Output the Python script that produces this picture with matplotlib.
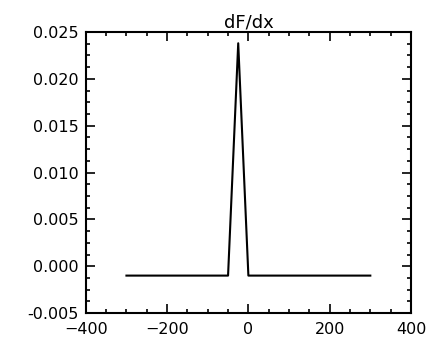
import matplotlib.pyplot as plt
from matplotlib.ticker import MultipleLocator

# data
x_pts = [-300, -50, -25, 0, 300]
y_pts = [-0.001, -0.001, 0.0238, -0.001, -0.001]

plt.rcParams['font.family'] = ['DejaVu Sans']

fig = plt.figure(figsize=(4.4, 3.37), dpi=100)
ax = fig.add_axes([0.195, 0.071, 0.739, 0.834])

ax.plot(x_pts, y_pts, color='black', linewidth=1.5)

ax.set_xlim(-400, 400)
ax.set_ylim(-0.005, 0.025)
ax.xaxis.set_major_locator(MultipleLocator(200))
ax.xaxis.set_minor_locator(MultipleLocator(50))
ax.yaxis.set_major_locator(MultipleLocator(0.005))
ax.yaxis.set_minor_locator(MultipleLocator(0.00125))
ax.yaxis.set_major_formatter(plt.FormatStrFormatter('%.3f'))

# IDL-style box: inward ticks on all four sides
ax.tick_params(which='both', direction='in', top=True, right=True, labelsize=11.5, width=1.2)
ax.tick_params(which='major', length=6.5)
ax.tick_params(which='minor', length=3)
ax.tick_params(axis='y', pad=5)
ax.tick_params(axis='x', pad=6.5)
for s in ax.spines.values():
    s.set_linewidth(1.5)

ax.set_title('dF/dx', fontsize=13, pad=3)

fig.savefig('out.png', dpi=100)
